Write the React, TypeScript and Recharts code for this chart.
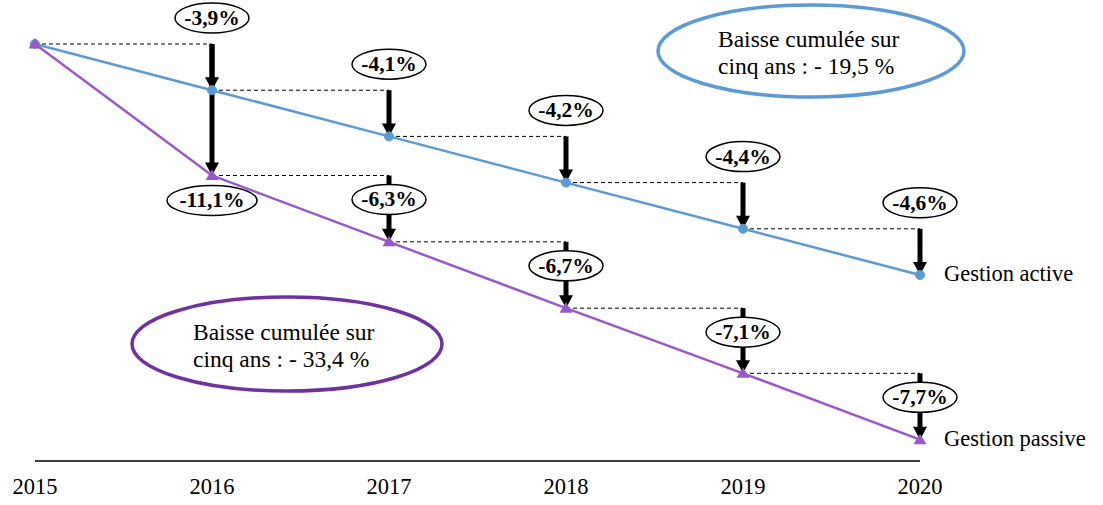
import { Line, LineChart, ReferenceDot, ReferenceLine, XAxis, YAxis } from "recharts";

const YEARS = [2015, 2016, 2017, 2018, 2019, 2020];
const ACTIVE = [100, 96.1, 92.2, 88.3, 84.4, 80.5];
const PASSIVE = [100, 88.9, 83.3, 77.7, 72.2, 66.6];
const ACTIVE_CHANGES = ["-3,9%", "-4,1%", "-4,2%", "-4,4%", "-4,6%"];
const PASSIVE_CHANGES = ["-11,1%", "-6,3%", "-6,7%", "-7,1%", "-7,7%"];
const SERIES_NAMES = ["Gestion active", "Gestion passive"];
const ACTIVE_NOTE = ["Baisse cumulée sur", "cinq ans : - 19,5 %"];
const PASSIVE_NOTE = ["Baisse cumulée sur", "cinq ans : - 33,4 %"];

const data = YEARS.map((year, i) => ({ year, active: ACTIVE[i], passive: PASSIVE[i] }));

const FONT = "Liberation Serif, Times New Roman, serif";
const BLUE = "#5B9BD5";
const PURPLE = "#9B57C9";
const DARK_PURPLE = "#7030A0";

// arrow down from (x1,y1) to (x2,y2) plus the ellipse label
const ArrowWithLabel = ({ x1, y1, x2, y2, label, labelY }: any) => {
  const head = 13;
  const rx = label.length > 5 ? 45 : 37;
  const cy = labelY(y1, y2);
  return (
    <g>
      <line x1={x1} y1={y1} x2={x2} y2={y2 - head + 1} stroke="#000" strokeWidth={5} />
      <path d={`M${x2 - 7},${y2 - head} L${x2 + 7},${y2 - head} L${x2},${y2} Z`} fill="#000" />
      <ellipse cx={x2} cy={cy} rx={rx} ry={15} fill="#fff" stroke="#000" strokeWidth={1.5} />
      <text x={x2} y={cy + 7} textAnchor="middle" style={{ fontFamily: FONT, fontWeight: 700, fontSize: 21.5 }} fill="#000">
        {label}
      </text>
    </g>
  );
};

const Triangle = ({ cx, cy, index }: any) => (
  <path key={`tri-${index}`} d={`M${cx - 6.5},${cy + 4.5} L${cx + 6.5},${cy + 4.5} L${cx},${cy - 6} Z`} fill={PURPLE} />
);

const YearTick = ({ x, y, payload }: any) => (
  <text x={x} y={y + 25} textAnchor="middle" style={{ fontFamily: FONT, fontSize: 22.5 }} fill="#000">
    {payload.value}
  </text>
);

const SeriesName = ({ cx, cy, text }: any) => (
  <text x={cx + 24} y={cy + 6} style={{ fontFamily: FONT, fontSize: 22.5 }} fill="#000">
    {text}
  </text>
);

const Note = ({ lines, cx, cy, rx, ry, color, textX, textY }: any) => (
  <g>
    <ellipse cx={cx} cy={cy} rx={rx} ry={ry} fill="none" stroke={color} strokeWidth={3.5} />
    {lines.map((t: string, i: number) => (
      <text key={i} x={textX} y={textY + i * 27} style={{ fontFamily: FONT, fontSize: 23.5 }} fill="#000">
        {t}
      </text>
    ))}
  </g>
);

export default function App() {
  const steps = YEARS.slice(1).map((_, k) => k + 1);
  return (
    <div style={{ position: "absolute", left: 0, top: 0, width: 1103, height: 505, background: "#fff" }}>
      <LineChart width={1103} height={505} data={data} margin={{ top: 44, right: 183, left: 35, bottom: 0 }}>
        <XAxis
          dataKey="year"
          type="number"
          domain={[2015, 2020]}
          ticks={YEARS}
          axisLine={{ stroke: "#000", strokeWidth: 1.5 }}
          tickLine={false}
          tick={<YearTick />}
          height={44}
        />
        <YAxis hide domain={[64.8, 100]} />

        {/* dashed guides at previous level */}
        {steps.map((i) => (
          <ReferenceLine
            key={`da-${i}`}
            segment={[{ x: YEARS[i - 1], y: ACTIVE[i - 1] }, { x: YEARS[i], y: ACTIVE[i - 1] }]}
            stroke="#000"
            strokeWidth={1}
            strokeDasharray="4 3"
            ifOverflow="visible"
          />
        ))}
        {steps.slice(1).map((i) => (
          <ReferenceLine
            key={`dp-${i}`}
            segment={[{ x: YEARS[i - 1], y: PASSIVE[i - 1] }, { x: YEARS[i], y: PASSIVE[i - 1] }]}
            stroke="#000"
            strokeWidth={1}
            strokeDasharray="4 3"
            ifOverflow="visible"
          />
        ))}

        <Line
          type="linear"
          dataKey="active"
          stroke={BLUE}
          strokeWidth={2.5}
          dot={{ r: 4.5, fill: BLUE, stroke: BLUE, strokeWidth: 1 }}
          isAnimationActive={false}
        />
        <Line
          type="linear"
          dataKey="passive"
          stroke={PURPLE}
          strokeWidth={2.5}
          dot={<Triangle />}
          isAnimationActive={false}
        />

        {/* arrows + change labels */}
        {steps.map((i) => (
          <ReferenceLine
            key={`ap-${i}`}
            segment={[{ x: YEARS[i], y: PASSIVE[i - 1] }, { x: YEARS[i], y: PASSIVE[i] }]}
            ifOverflow="visible"
            shape={(p: any) => (
              <ArrowWithLabel
                {...p}
                label={PASSIVE_CHANGES[i - 1]}
                labelY={(a: number, b: number) => (i === 1 ? b + 25 : a + 24)}
              />
            )}
          />
        ))}
        {steps.map((i) => (
          <ReferenceLine
            key={`aa-${i}`}
            segment={[{ x: YEARS[i], y: ACTIVE[i - 1] }, { x: YEARS[i], y: ACTIVE[i] }]}
            ifOverflow="visible"
            shape={(p: any) => (
              <ArrowWithLabel {...p} label={ACTIVE_CHANGES[i - 1]} labelY={(a: number) => a - 26} />
            )}
          />
        ))}

        <ReferenceDot
          x={YEARS[5]}
          y={ACTIVE[5]}
          ifOverflow="visible"
          shape={(p: any) => <SeriesName {...p} text={SERIES_NAMES[0]} />}
        />
        <ReferenceDot
          x={YEARS[5]}
          y={PASSIVE[5]}
          ifOverflow="visible"
          shape={(p: any) => <SeriesName {...p} text={SERIES_NAMES[1]} />}
        />
      </LineChart>
      <svg width={1103} height={505} style={{ position: "absolute", left: 0, top: 0, pointerEvents: "none" }}>
        <Note lines={ACTIVE_NOTE} cx={811} cy={51} rx={153} ry={46} color={BLUE} textX={718} textY={47} />
        <Note lines={PASSIVE_NOTE} cx={287} cy={344} rx={155} ry={47} color={DARK_PURPLE} textX={193} textY={340} />
      </svg>
    </div>
  );
}
